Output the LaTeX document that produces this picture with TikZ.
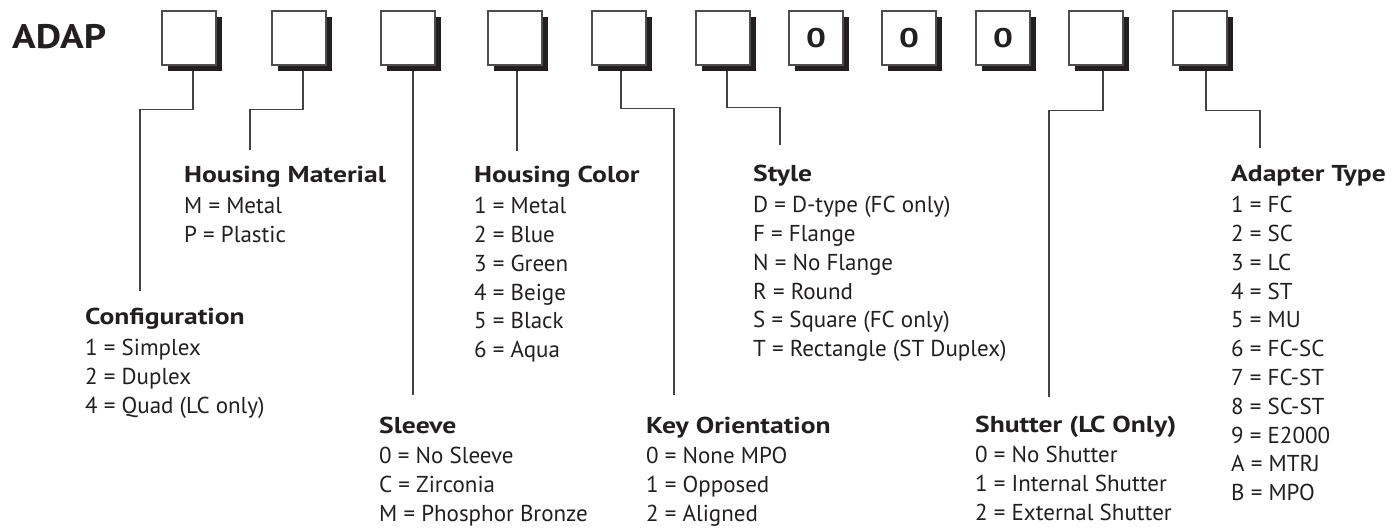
\documentclass[tikz,border=0pt]{standalone}
\usepackage{fontspec}
\setmainfont{PT Sans}
\newfontfamily\titlefont{PT Sans Bold}[FakeStretch=1.2]
\newfontfamily\zerofont{PT Sans Bold}[FakeStretch=1.3]
\newfontfamily\adapfont{PT Sans Bold}[FakeStretch=1.15]
\definecolor{ink}{HTML}{231F20}
\newcommand{\blk}[2]{\renewcommand{\arraystretch}{1}\begin{tabular}[t]{@{}l@{}}{\titlefont #1}\\[2pt]#2\end{tabular}}
\tikzset{
  x=1pt, y=-1pt,
  box/.style={draw=ink!80, line width=1.3pt, fill=white, minimum width=54pt, minimum height=54pt, inner sep=0pt, text=ink},
  shadow/.style={fill=ink, minimum width=54pt, minimum height=54pt, inner sep=0pt},
  leader/.style={draw=ink!85, line width=1.2pt},
  legend/.style={anchor=base west, inner sep=0pt, text=ink, font=\fontsize{23}{28.8}\selectfont},
}
\begin{document}
\begin{tikzpicture}
\useasboundingbox (0,0) rectangle (1398,529);
\node[anchor=base west, inner sep=0pt, text=ink] (adap) at (12,49) {\adapfont\fontsize{34}{34}\selectfont ADAP};
% boxes
\foreach \i/\x/\t in {1/162/,2/272/,3/381/,4/488/,5/592/,6/696/,7/789/0,8/882/0,9/976/0,10/1069/,11/1173/}{
  \node[shadow] (b\i s) at (\x+27+6,38+6) {};
  \node[box] (b\i) at (\x+27,38) {\zerofont\fontsize{27}{27}\selectfont\t};
}
% legend blocks
\node[legend] (hm) at (184,183) {\blk{Housing Material}{M = Metal\\P = Plastic}};
\node[legend] (cfg) at (85,325) {\blk{Configuration}{1 = Simplex\\2 = Duplex\\4 = Quad (LC only)}};
\node[legend] (hc) at (474,183) {\blk{Housing Color}{1 = Metal\\2 = Blue\\3 = Green\\4 = Beige\\5 = Black\\6 = Aqua}};
\node[legend] (sty) at (753,182) {\blk{Style}{D = D-type (FC only)\\F = Flange\\N = No Flange\\R = Round\\S = Square (FC only)\\T = Rectangle (ST Duplex)}};
\node[legend] (slv) at (379,433) {\blk{Sleeve}{0 = No Sleeve\\C = Zirconia\\M = Phosphor Bronze}};
\node[legend] (key) at (646,433) {\blk{Key Orientation}{0 = None MPO\\1 = Opposed\\2 = Aligned}};
\node[legend] (sht) at (975,432) {\blk{Shutter (LC Only)}{0 = No Shutter\\1 = Internal Shutter\\2 = External Shutter}};
\node[legend] (adp) at (1231,182) {\blk{Adapter Type}{1 = FC\\2 = SC\\3 = LC\\4 = ST\\5 = MU\\6 = FC-SC\\7 = FC-ST\\8 = SC-ST\\9 = E2000\\A = MTRJ\\B = MPO}};
% leader ends
\coordinate (t1) at (140,291);
\coordinate (t2) at (250,150);
\coordinate (t3) at (413,395);
\coordinate (t4) at (517,151);
\coordinate (t5) at (674,395);
\coordinate (t6) at (780,145);
\coordinate (t10) at (1049,397);
\coordinate (t11) at (1260,148);
\draw[leader] ([xshift=-2pt]b1s.south) -- ++(0,38) -| (t1);
\draw[leader] ([xshift=-2pt]b2s.south) -- ++(0,38) -| (t2);
\draw[leader] (b3s.south -| t3) -- (t3);
\draw[leader] (b4s.south -| t4) -- (t4);
\draw[leader] ([xshift=-4pt]b5s.south) -- ++(0,37) -| (t5);
\draw[leader] ([xshift=-2pt]b6s.south) -- ++(0,36) -| (t6);
\draw[leader] ([xshift=1pt]b10s.south) -- ++(0,39) -| (t10);
\draw[leader] (b11s.south) -- ++(0,39) -| (t11);
\end{tikzpicture}
\end{document}
